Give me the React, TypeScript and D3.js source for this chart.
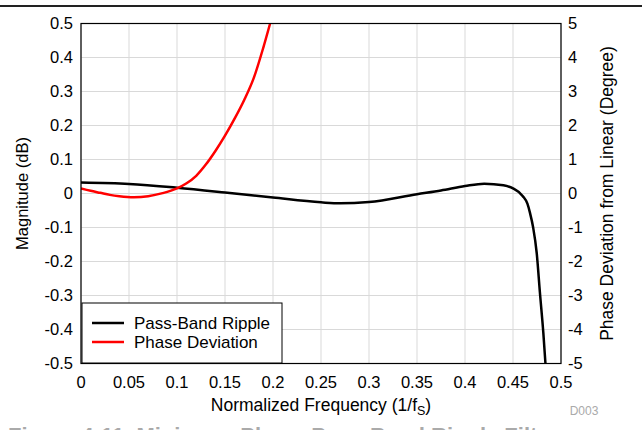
import React from "react";
import * as d3 from "d3";

const xTicks = [0, 0.05, 0.1, 0.15, 0.2, 0.25, 0.3, 0.35, 0.4, 0.45, 0.5];
const yLeftTicks = [-0.5, -0.4, -0.3, -0.2, -0.1, 0, 0.1, 0.2, 0.3, 0.4, 0.5];
const yRightTicks = [-5, -4, -3, -2, -1, 0, 1, 2, 3, 4, 5];

const rippleFreq = [0, 0.05, 0.1, 0.15, 0.2, 0.25, 0.27, 0.3, 0.35, 0.375, 0.4, 0.42, 0.44, 0.45, 0.46, 0.465, 0.4677, 0.471, 0.4747, 0.478, 0.4816, 0.4838];
const rippleDb = [0.032, 0.028, 0.017, 0.003, -0.012, -0.026, -0.029, -0.025, -0.002, 0.009, 0.022, 0.029, 0.024, 0.015, -0.007, -0.03, -0.057, -0.1, -0.175, -0.29, -0.41, -0.5];

const phaseFreq = [0, 0.01, 0.02, 0.03, 0.04, 0.055, 0.07, 0.085, 0.1, 0.11, 0.12, 0.13, 0.14, 0.15, 0.16, 0.17, 0.18, 0.19, 0.197, 0.2];
const phaseDeg = [0.15, 0.08, 0.02, -0.04, -0.08, -0.11, -0.08, 0.01, 0.15, 0.3, 0.52, 0.85, 1.25, 1.7, 2.2, 2.75, 3.4, 4.3, 5.0, 5.3];

const W = 642;
const H = 430;
const L = 81, R = 561, T = 23.5, B = 363.5;
const FONT = "'Liberation Sans', Arial, Helvetica, sans-serif";

export default function App() {
  const x = d3.scaleLinear().domain([0, 0.5]).range([L, R]);
  const yL = d3.scaleLinear().domain([-0.5, 0.5]).range([B, T]);
  const yR = d3.scaleLinear().domain([-5, 5]).range([B, T]);

  const rippleLine = d3
    .line<number>()
    .x((_, i) => x(rippleFreq[i]))
    .y((d) => yL(d))
    .curve(d3.curveMonotoneX)(rippleDb) as string;

  const phaseLine = d3
    .line<number>()
    .x((_, i) => x(phaseFreq[i]))
    .y((d) => yR(d))
    .curve(d3.curveMonotoneX)(phaseDeg) as string;

  return (
    <svg
      width={W}
      height={H}
      style={{ position: "absolute", left: 0, top: 0, background: "#fff" }}
      fontFamily={FONT}
    >
      <rect x={0} y={0} width={W} height={H} fill="#fff" />
      <line x1={0} x2={W} y1={6} y2={6} stroke="#222" strokeWidth={2} />
      <defs>
        <clipPath id="plotclip">
          <rect x={L} y={T} width={R - L} height={B - T} />
        </clipPath>
      </defs>
      {xTicks.map((t) => (
        <line key={"gx" + t} x1={x(t)} x2={x(t)} y1={T} y2={B} stroke="#d9d9d9" strokeWidth={1} />
      ))}
      {yLeftTicks.map((t) => (
        <line key={"gy" + t} x1={L} x2={R} y1={yL(t)} y2={yL(t)} stroke="#d9d9d9" strokeWidth={1} />
      ))}
      <g clipPath="url(#plotclip)">
        <path d={rippleLine} fill="none" stroke="#000" strokeWidth={2.5} />
        <path d={phaseLine} fill="none" stroke="#ff0000" strokeWidth={2.5} />
      </g>
      <rect x={L} y={T} width={R - L} height={B - T} fill="none" stroke="#000" strokeWidth={1.2} />
      {xTicks.map((t) => (
        <text key={"tx" + t} x={x(t)} y={388} fontSize={16.5} textAnchor="middle" fill="#000">
          {String(t)}
        </text>
      ))}
      {yLeftTicks.map((t) => (
        <text key={"tl" + t} x={73} y={yL(t) + 5.5} fontSize={16.5} textAnchor="end" fill="#000">
          {String(t)}
        </text>
      ))}
      {yRightTicks.map((t) => (
        <text key={"tr" + t} x={568} y={yR(t) + 5.5} fontSize={16.5} textAnchor="start" fill="#000">
          {String(t)}
        </text>
      ))}
      <text x={321} y={411} fontSize={17.5} textAnchor="middle" fill="#000">
        Normalized Frequency (1/f
        <tspan fontSize={12.5} dy={4}>S</tspan>
        <tspan dy={-4}>)</tspan>
      </text>
      <text
        transform={`translate(28,${(T + B) / 2}) rotate(-90)`}
        fontSize={16.5}
        textAnchor="middle"
        fill="#000"
      >
        Magnitude (dB)
      </text>
      <text
        transform={`translate(613,${(T + B) / 2}) rotate(-90)`}
        fontSize={17.5}
        textAnchor="middle"
        fill="#000"
      >
        Phase Deviation from Linear (Degree)
      </text>
      <text x={584} y={415} fontSize={12} textAnchor="middle" fill="#aaa">
        D003
      </text>
      <g>
        <rect x={82} y={303} width={200} height={60} fill="#fff" stroke="#000" strokeWidth={1} />
        <line x1={92} x2={124} y1={323} y2={323} stroke="#000" strokeWidth={2.5} />
        <text x={134} y={329} fontSize={17} fill="#000">Pass-Band Ripple</text>
        <line x1={92} x2={124} y1={342} y2={342} stroke="#ff0000" strokeWidth={2.5} />
        <text x={134} y={348} fontSize={17} fill="#000">Phase Deviation</text>
      </g>
      <text x={8} y={443} fontSize={22} fontWeight="bold" fill="#aaa">
        Figure 4-11. Minimum-Phase Pass-Band Ripple Filter
      </text>
    </svg>
  );
}
